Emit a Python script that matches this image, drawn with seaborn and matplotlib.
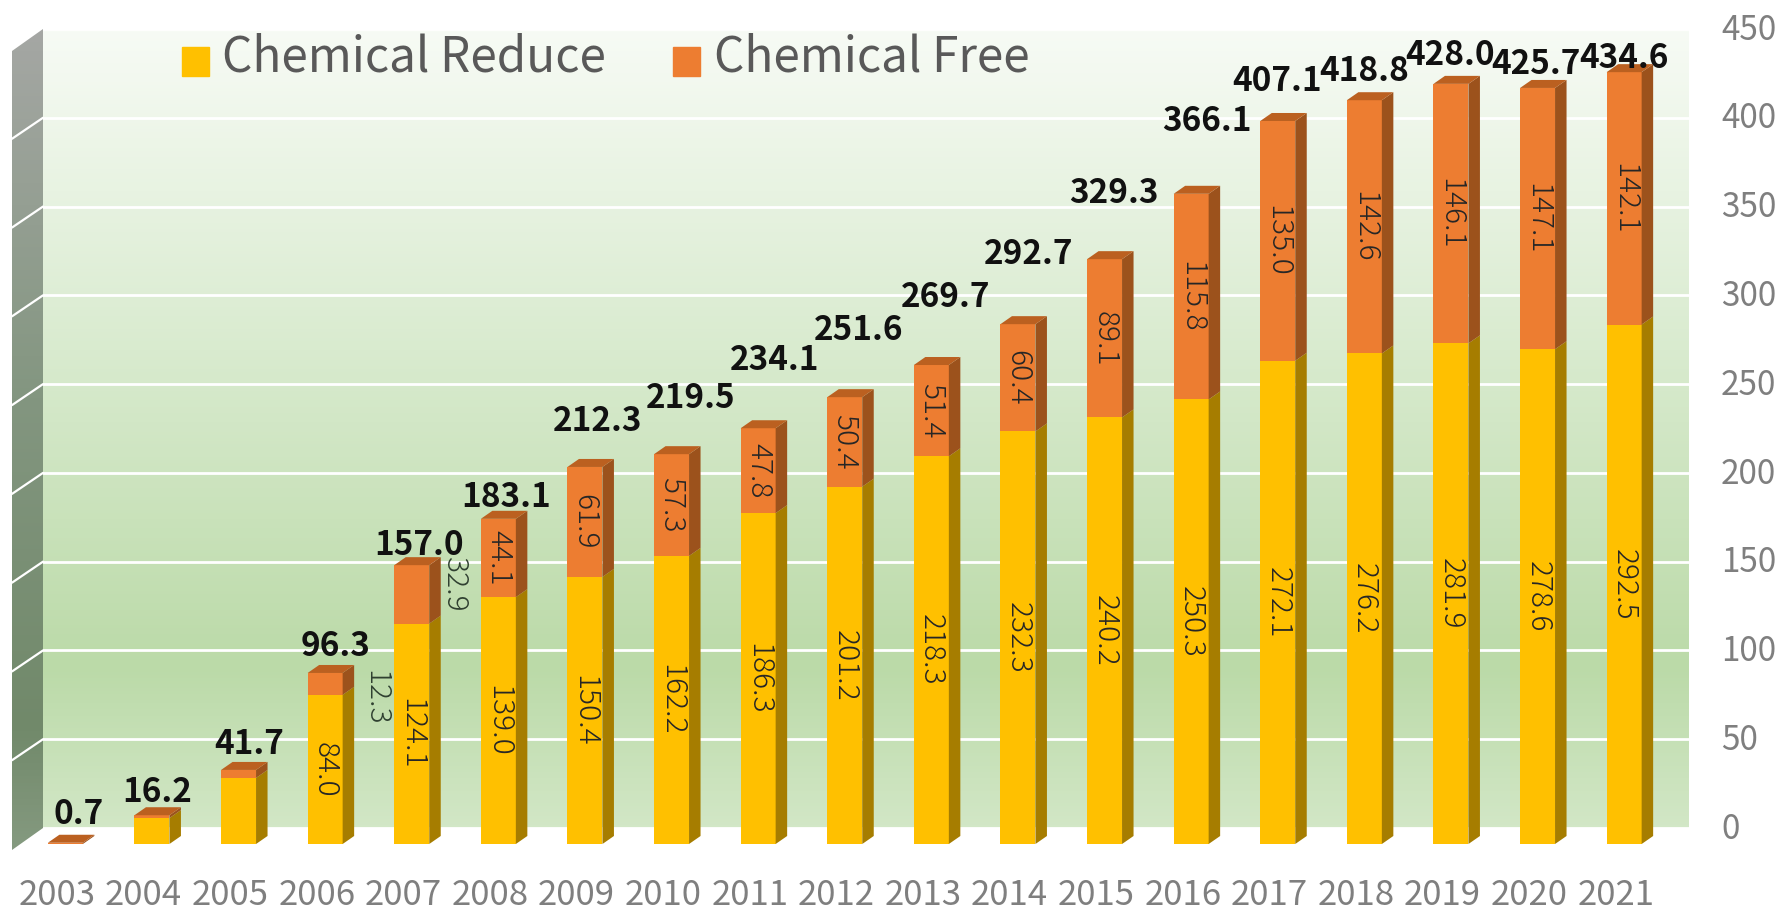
import numpy as np
import pandas as pd
import matplotlib
matplotlib.use('Agg')
import matplotlib.pyplot as plt
from matplotlib.colors import LinearSegmentedColormap
from matplotlib.patches import Patch, Polygon
from matplotlib.transforms import ScaledTranslation
import seaborn as sns

years = [str(y) for y in range(2003, 2022)]
chem_reduce = [0.0, 14.6, 37.2, 84.0, 124.1, 139.0, 150.4, 162.2, 186.3, 201.2,
               218.3, 232.3, 240.2, 250.3, 272.1, 276.2, 281.9, 278.6, 292.5]
chem_free = [0.7, 1.6, 4.5, 12.3, 32.9, 44.1, 61.9, 57.3, 47.8, 50.4,
             51.4, 60.4, 89.1, 115.8, 135.0, 142.6, 146.1, 147.1, 142.1]
totals = [0.7, 16.2, 41.7, 96.3, 157.0, 183.1, 212.3, 219.5, 234.1, 251.6,
          269.7, 292.7, 329.3, 366.1, 407.1, 418.8, 428.0, 425.7, 434.6]
y_ticks = list(range(0, 451, 50))

# where the bold totals sit relative to the top of each bar, in pixels
total_dx = [13, 5, 11, 10, 7, 8, 13, 19, 16, 14, 14, 11, 9, 16, -1, 0, -1, -2, 0]
total_dy = [28, 23, 25, 26, 20, 21, 45, 56, 68, 67, 68, 70, 66, 72, 39, 29, 28, 23, 14]

W, H = 1780, 911
PT = 0.72
YELLOW, ORANGE = '#ffc000', '#ed7d31'
YELLOW_SIDE, ORANGE_SIDE, ORANGE_TOP = '#a67d00', '#9c521c', '#bb6020'

sns.set_theme(style='white')
plt.rcParams['font.family'] = ['Noto Sans CJK JP', 'DejaVu Sans']

df = pd.DataFrame({'year': years, 'reduce': chem_reduce, 'free': chem_free, 'total': totals})

fig = plt.figure(figsize=(W / 100, H / 100), dpi=100, facecolor='white')


def px_axes(left, top, right, bottom):
    return fig.add_axes([left / W, 1 - bottom / H, (right - left) / W, (bottom - top) / H])


# back wall with the value axis on the right
back = px_axes(43, 29, 1689, 828)
back.set_ylim(0, 450)
back.set_xlim(0, 1)
wall_cmap = LinearSegmentedColormap.from_list(
    'wall', [(0, '#d2e7c6'), (0.2, '#bbdaa8'), (0.6, '#d9ebcf'), (1, '#f7fbf5')])
back.imshow(np.linspace(0, 1, 256).reshape(-1, 1), origin='lower', aspect='auto',
            cmap=wall_cmap, extent=(0, 1, 0, 450), zorder=0)
back.set_yticks(y_ticks)
back.grid(axis='y', color='white', lw=2, zorder=1)
back.set_axisbelow(False)
back.set_xticks([])
back.yaxis.tick_right()
back.tick_params(axis='y', length=0, pad=32 * PT, labelsize=24, labelcolor='#7f7f7f')
for lab in back.get_yticklabels():
    lab.set_ha('left')
    lab.set_transform(lab.get_transform() + ScaledTranslation(0, 2 / 72, fig.dpi_scale_trans))
sns.despine(ax=back, left=True, right=True, top=True, bottom=True)

# slanted side wall
side = fig.add_axes([0, 0, 1, 1], zorder=1)
side.set_xlim(0, W)
side.set_ylim(H, 0)
side.axis('off')
side_cmap = LinearSegmentedColormap.from_list(
    'side', [(0, '#a5a7a4'), (0.45, '#839680'), (0.85, '#71896a'), (1, '#859a80')])
im = side.imshow(np.linspace(0, 1, 256).reshape(-1, 1), aspect='auto', cmap=side_cmap,
                 extent=(12, 43, 850, 29))
clip = Polygon([(43, 29), (12, 51), (12, 850), (43, 828)], transform=side.transData,
               fc='none', ec='none')
side.add_patch(clip)
im.set_clip_path(clip)
side.set_xlim(0, W)
side.set_ylim(H, 0)
for v in y_ticks[1:-1]:
    py = 828 - v * 799 / 450
    side.plot([43, 12], [py, py + 21], color='white', lw=1.6)

# front plane with the bars
ax = px_axes(0, 0, W, 844)
ax.set_zorder(2)
ax.patch.set_alpha(0)
bar_kw = dict(saturation=1, width=0.404, linewidth=0, edgecolor='none', ax=ax)
sns.barplot(data=df, x='year', y='total', color=ORANGE, **bar_kw)
sns.barplot(data=df, x='year', y='reduce', color=YELLOW, **bar_kw)

x_per_px = 1 / 86.6
y_per_px = 1 / 1.776
ax.set_xlim(-65.35 * x_per_px, (W - 65.35) * x_per_px)
ax.set_ylim(0, 844 * y_per_px)
dx, dy = 11.5 * x_per_px, 8 * y_per_px
half = 0.202

for i, (low, top) in enumerate(zip(chem_reduce, totals)):
    xr = i + half
    xl = i - half
    ax.fill([xr, xr + dx, xr + dx, xr], [0, dy, low + dy, low], color=YELLOW_SIDE, lw=0)
    ax.fill([xr, xr + dx, xr + dx, xr], [low, low + dy, top + dy, top], color=ORANGE_SIDE, lw=0)
    ax.fill([xl, xr, xr + dx, xl + dx], [top, top, top + dy, top + dy], color=ORANGE_TOP, lw=0)

# value labels, the two thin segments get theirs next to the bar
inner = dict(rotation=270, ha='center', va='center', fontsize=21.5, color='#262626',
             fontweight='light')
for i, (a, b) in enumerate(zip(chem_reduce, chem_free)):
    if i >= 3:
        ax.text(i, a / 2, f'{a:.1f}', **inner)
    if i >= 5:
        ax.text(i, a + b / 2, f'{b:.1f}', **inner)
outer = dict(inner, color='#2f4030')
ax.annotate(f'{chem_free[3]:.1f}', (3, chem_reduce[3] + chem_free[3] / 2), xytext=(50 * PT, -14 * PT),
            textcoords='offset points', **outer)
ax.annotate(f'{chem_free[4]:.1f}', (4, chem_reduce[4] + chem_free[4] / 2), xytext=(42 * PT, 10 * PT),
            textcoords='offset points', **outer)

for i, t in enumerate(totals):
    ax.annotate(f'{t:.1f}', (i, t), xytext=(total_dx[i] * PT, total_dy[i] * PT),
                textcoords='offset points', ha='center', va='center',
                fontsize=24, fontweight='bold', color='#111111')

ax.set_xticks(np.arange(len(years)) - 0.096)
ax.set_xticklabels(years)
ax.set_yticks([])
ax.set_xlabel('')
ax.set_ylabel('')
ax.tick_params(axis='x', length=0, pad=34 * PT, labelsize=25, labelcolor='#7f7f7f')
sns.despine(ax=ax, left=True, right=True, top=True, bottom=True)

handles = [Patch(color=YELLOW, label='Chemical Reduce'), Patch(color=ORANGE, label='Chemical Free')]
leg = ax.legend(handles=handles, ncol=2, frameon=False, fontsize=34.3, labelcolor='#595959',
                loc='upper left', bbox_to_anchor=(182 / W, 1 - 40 / 844), borderpad=0, borderaxespad=0,
                handlelength=0.57, handleheight=0.545, handletextpad=0.28, columnspacing=1.4)
for txt in leg.get_texts():
    txt.set_y(6.5)

fig.savefig('out.png', dpi=100)
